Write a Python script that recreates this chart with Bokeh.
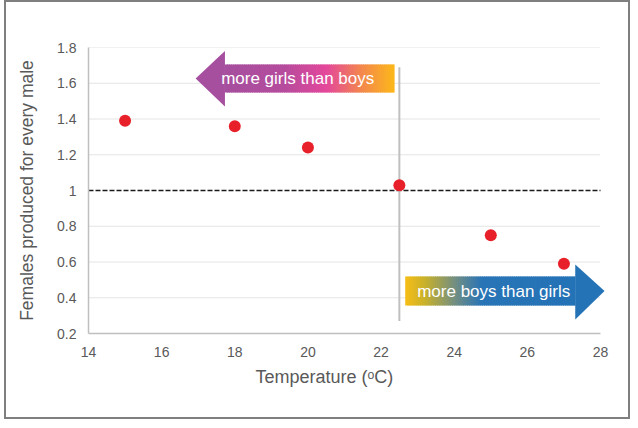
from bokeh.plotting import figure
from bokeh.models import Range1d, FixedTicker, Label, PolyAnnotation, Title
from bokeh.embed import file_html
from bokeh.resources import INLINE

# ---- data ----
temperatures = [15, 18, 20, 22.5, 25, 27]
female_ratio = [1.39, 1.36, 1.24, 1.03, 0.75, 0.59]
x_ticks = [14, 16, 18, 20, 22, 24, 26, 28]
x_tick_labels = ["14", "16", "18", "20", "22", "24", "26", "28"]
y_ticks = [0.2, 0.4, 0.6, 0.8, 1.0, 1.2, 1.4, 1.6, 1.8]
y_tick_labels = ["0.2", "0.4", "0.6", "0.8", "1", "1.2", "1.4", "1.6", "1.8"]
x_min, x_max = 14, 28
pivot_temperature = 22.5
parity_ratio = 1.0

FONT = "Liberation Sans"
GREY_TEXT = "#595959"

p = figure(width=626, height=419, output_backend="svg", toolbar_location=None,
           x_range=Range1d(14, 28.164), y_range=Range1d(0.2, 1.8),
           min_border_left=82, min_border_right=26, min_border_top=45, min_border_bottom=88)
p.styles = {"border": "2px solid #7f7f7f", "box-sizing": "border-box", "margin-left": "4px"}
p.outline_line_color = None
p.background_fill_color = "white"
p.border_fill_color = "white"

# axes
for ax in (p.xaxis, p.yaxis):
    ax.axis_line_color = "#bfbfbf"
    ax.axis_line_width = 1.5
    ax.major_tick_line_color = None
    ax.minor_tick_line_color = None
    ax.major_tick_out = 0
    ax.major_tick_in = 0
    ax.major_label_text_font = FONT
    ax.major_label_text_font_size = "14px"
    ax.major_label_text_color = GREY_TEXT

p.xaxis.ticker = FixedTicker(ticks=x_ticks)
p.xaxis.bounds = (x_min, x_max)
p.xaxis.major_label_overrides = {t: s for t, s in zip(x_ticks, x_tick_labels)}
p.xaxis.major_label_standoff = 13
p.yaxis.ticker = FixedTicker(ticks=y_ticks)
p.yaxis.major_label_overrides = {t: s for t, s in zip(y_ticks, y_tick_labels)}
p.yaxis.major_label_standoff = 12

p.yaxis.axis_label = "Females produced for every male"
p.yaxis.axis_label_text_font = FONT
p.yaxis.axis_label_text_font_size = "17.5px"
p.yaxis.axis_label_text_font_style = "normal"
p.yaxis.axis_label_text_color = GREY_TEXT
p.yaxis.axis_label_standoff = 17

p.xgrid.grid_line_color = None
p.ygrid.grid_line_color = None

# dotted horizontal grid lines, limited to the axis extent
grid_y = [t for t in y_ticks if t != parity_ratio and t != y_ticks[0]]
p.segment(x0=[x_min] * len(grid_y), y0=grid_y, x1=[x_max] * len(grid_y), y1=grid_y,
          line_color="#c8c8c8", line_width=1, line_dash="1 1", level="underlay")

# x axis title (offset to the left like the reference)
p.add_layout(Title(text="Temperature (ᵒC)", align="left", offset=167, text_font=FONT,
                   text_font_size="18px", text_color=GREY_TEXT, text_font_style="normal",
                   standoff=10), "below")

# parity line
p.segment(x0=[x_min], y0=[parity_ratio], x1=[x_max], y1=[parity_ratio],
          line_color="#1a1a1a", line_width=1.5, line_dash="5 2")

# vertical pivot line
p.segment(x0=[pivot_temperature], y0=[0.27], x1=[pivot_temperature], y1=[1.69],
          line_color="#c0c0c0", line_width=2)


# ---- gradient arrows ----
def hex_rgb(h):
    h = h.lstrip("#")
    return tuple(int(h[i:i + 2], 16) for i in (0, 2, 4))


def color_at(stops, t):
    for (p0, c0), (p1, c1) in zip(stops, stops[1:]):
        if p0 <= t <= p1:
            f = 0 if p1 == p0 else (t - p0) / (p1 - p0)
            a, b = hex_rgb(c0), hex_rgb(c1)
            return "#%02x%02x%02x" % tuple(round(a[i] + (b[i] - a[i]) * f) for i in range(3))
    return stops[-1][1]


def gradient_body(x0, x1, y0, y1, stops, n=80):
    lefts, rights, cols = [], [], []
    w = (x1 - x0) / n
    for i in range(n):
        lefts.append(x0 + i * w)
        rights.append(x0 + (i + 1) * w + (w * 0.6 if i < n - 1 else 0))
        cols.append(color_at(stops, (i + 0.5) / n))
    p.quad(left=lefts, right=rights, bottom=[y0] * n, top=[y1] * n,
           fill_color=cols, line_color=None)


# girls arrow (points left)
g_stops = [(0.0, "#a54f9e"), (0.35, "#b64c9d"), (0.6, "#e4489b"), (0.8, "#f3864f"), (1.0, "#fcb819")]
gradient_body(17.72, 22.37, 1.548, 1.705, g_stops)
p.add_layout(PolyAnnotation(xs=[17.73, 16.93, 17.73], ys=[1.78, 1.6265, 1.47],
                            fill_color="#a54f9e", fill_alpha=1, line_color=None))
p.add_layout(Label(x=19.72, y=1.6265, text="more girls than boys", text_font=FONT,
                   text_font_size="17px", text_color="white",
                   text_align="center", text_baseline="middle"))

# boys arrow (points right)
b_stops = [(0.0, "#f7be17"), (0.12, "#c6b02c"), (0.3, "#6f8d86"), (0.45, "#2874b6"), (1.0, "#2473b6")]
gradient_body(22.66, 27.32, 0.357, 0.519, b_stops)
p.add_layout(PolyAnnotation(xs=[27.31, 28.11, 27.31], ys=[0.586, 0.438, 0.278],
                            fill_color="#2473b6", fill_alpha=1, line_color=None))
p.add_layout(Label(x=25.08, y=0.435, text="more boys than girls", text_font=FONT,
                   text_font_size="17px", text_color="white",
                   text_align="center", text_baseline="middle"))

# data points
p.scatter(temperatures, female_ratio, size=12, fill_color="#e8202a",
          line_color=None, level="overlay")

open("out.html", "w").write(file_html(p, INLINE))
